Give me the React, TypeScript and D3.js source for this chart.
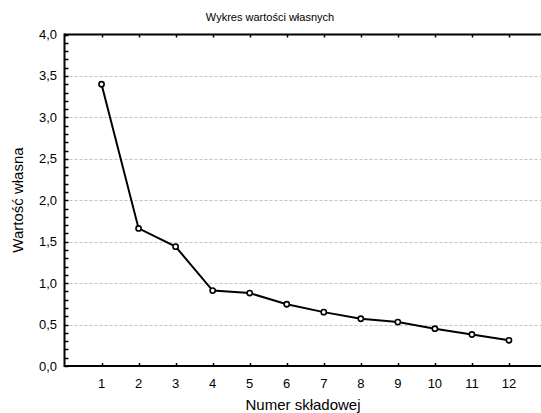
import React, { useEffect, useRef } from 'react';
import * as d3 from 'd3';

// dane wykresu osypiska
const components = [1, 2, 3, 4, 5, 6, 7, 8, 9, 10, 11, 12];
const eigenvalues = [3.40, 1.66, 1.44, 0.91, 0.88, 0.745, 0.65, 0.57, 0.53, 0.45, 0.38, 0.31];
const yTicks = [0, 0.5, 1, 1.5, 2, 2.5, 3, 3.5, 4];

const title = 'Wykres wartości własnych';
const xTitle = 'Numer składowej';
const yTitle = 'Wartość własna';

export default function App() {
  const ref = useRef<SVGSVGElement>(null);

  useEffect(() => {
    const width = 541, height = 413;
    const svg = d3.select(ref.current);
    svg.selectAll('*').remove();

    const left = 64.5, top = 34.5, bottom = 366;
    const x = d3.scaleLinear().domain([0, 13]).range([left, 546]);
    const y = d3.scaleLinear().domain([0, 4]).range([bottom, top]);
    const font = 'Liberation Sans, Arial, sans-serif';

    // siatka
    svg.append('g')
      .selectAll('line')
      .data(yTicks.filter((d) => d > 0 && d < 4))
      .join('line')
      .attr('x1', left).attr('x2', width)
      .attr('y1', (d) => Math.round(y(d)) + 0.5)
      .attr('y2', (d) => Math.round(y(d)) + 0.5)
      .attr('stroke', '#c4c4c4')
      .attr('stroke-dasharray', '3,2');

    // osie
    const axisG = svg.append('g').attr('stroke', '#000');
    axisG.append('line').attr('x1', left).attr('x2', width).attr('y1', top).attr('y2', top).attr('stroke-width', 2);
    axisG.append('line').attr('x1', left).attr('x2', width).attr('y1', bottom).attr('y2', bottom).attr('stroke-width', 2);
    axisG.append('line').attr('x1', left).attr('x2', left).attr('y1', top - 1).attr('y2', bottom + 1).attr('stroke-width', 2);

    // drobne znaczniki na osi Y
    const minor = d3.range(0, 41).map((i) => i / 10);
    axisG.append('g').selectAll('line').data(minor).join('line')
      .attr('x1', left).attr('x2', left + 4)
      .attr('y1', (d) => Math.round(y(d)) + 0.5).attr('y2', (d) => Math.round(y(d)) + 0.5)
      .attr('stroke-width', 1.5);

    // znaczniki kategorii (góra i dół)
    axisG.append('g').selectAll('line').data(components).join('line')
      .attr('x1', (d) => Math.round(x(d)) + 0.5).attr('x2', (d) => Math.round(x(d)) + 0.5)
      .attr('y1', top).attr('y2', top + 3).attr('stroke-width', 1.5);
    axisG.append('g').selectAll('line').data(components).join('line')
      .attr('x1', (d) => Math.round(x(d)) + 0.5).attr('x2', (d) => Math.round(x(d)) + 0.5)
      .attr('y1', bottom).attr('y2', bottom - 3).attr('stroke-width', 1.5);

    // etykiety
    svg.append('g').selectAll('text').data(yTicks).join('text')
      .attr('x', 57).attr('y', (d) => y(d) + 4.5)
      .attr('text-anchor', 'end')
      .style('font', `13px ${font}`)
      .text((d) => d3.format('.1f')(d).replace('.', ','));

    svg.append('g').selectAll('text').data(components).join('text')
      .attr('x', (d) => x(d)).attr('y', 388)
      .attr('text-anchor', 'middle')
      .style('font', `13px ${font}`)
      .text((d) => d);

    svg.append('text').attr('x', 270).attr('y', 21).attr('text-anchor', 'middle')
      .style('font', `11px ${font}`).text(title);
    svg.append('text').attr('x', 303).attr('y', 410).attr('text-anchor', 'middle')
      .style('font', `15px ${font}`).text(xTitle);
    svg.append('text').attr('transform', `translate(23,${200}) rotate(-90)`).attr('text-anchor', 'middle')
      .style('font', `15px ${font}`).text(yTitle);

    // linia i punkty
    const data = components.map((c, i) => ({ c, v: eigenvalues[i] }));
    const line = d3.line<{ c: number; v: number }>().x((d) => x(d.c)).y((d) => y(d.v));
    svg.append('path').datum(data).attr('d', line)
      .attr('fill', 'none').attr('stroke', '#000').attr('stroke-width', 2);
    svg.append('g').selectAll('circle').data(data).join('circle')
      .attr('cx', (d) => x(d.c)).attr('cy', (d) => y(d.v)).attr('r', 2.6)
      .attr('fill', '#fff').attr('stroke', '#000').attr('stroke-width', 1.6);
  }, []);

  return (
    <div style={{ position: 'absolute', left: 0, top: 0, background: '#fff' }}>
      <svg ref={ref} width={541} height={413} style={{ display: 'block' }}></svg>
    </div>
  );
}
